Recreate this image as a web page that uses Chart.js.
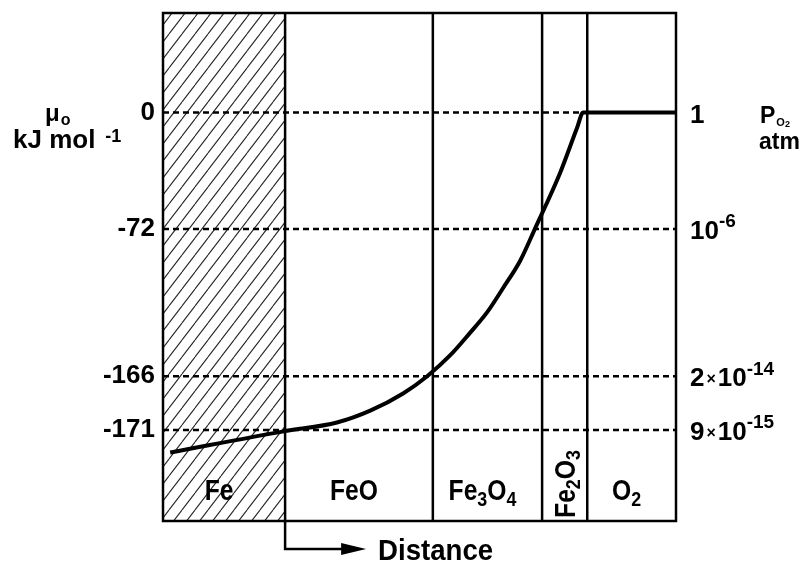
<!DOCTYPE html>
<html>
<head>
<meta charset="utf-8">
<script src="https://cdn.jsdelivr.net/npm/chart.js@4.4.1/dist/chart.umd.min.js"></script>
<style>
  html, body { margin: 0; padding: 0; background: #fff; }
  canvas { display: block; }
</style>
</head>
<body>
<canvas id="c" width="807" height="571"></canvas>
<script>
// Oxygen chemical potential through an oxide scale grown on iron

// Phases met along the distance axis and the distances where they meet
const PHASES = ['Fe', 'FeO', 'Fe3O4', 'Fe2O3', 'O2'];
const PHASE_EDGES = [0, 23.8, 52.6, 73.9, 82.7, 100];

// Chemical potential of oxygen, kJ mol-1, along the distance axis
const DIST = [1.4, 23.8, 33.9, 40.4, 46.8, 51.5, 56.0, 59.8, 63.2, 66.3, 69.6, 72.5, 77.4, 80.7, 81.9, 100];
const MU   = [-173.1, -171.1, -170.3, -169.2, -167.6, -166.0, -152.6, -138.5, -125.1, -109.7, -92.5, -72.0, -37.4, -9.6, 0, 0];

// Marked potentials and the matching oxygen pressures (atm)
const MU_TICKS = [0, -72, -166, -171];
const PO2_LABELS = ['1', '10^-6', '2\u00d710^-14', '9\u00d710^-15'];

const MU_MIN = -179.5, MU_MAX = 62, X_MAX = 100;
const FONT = '"Liberation Sans", Arial, Helvetica, sans-serif';

// A linear axis whose pixel spacing is piecewise: each knot pins a value to a fraction of the axis height
class PiecewiseScale extends Chart.LinearScale {
  _knots() { return this.options.knots; }
  getPixelForValue(value) {
    const k = this._knots();
    let f;
    if (value <= k[0][0]) f = k[0][1];
    else if (value >= k[k.length - 1][0]) f = k[k.length - 1][1];
    else {
      for (let i = 1; i < k.length; i++) {
        if (value <= k[i][0]) {
          const t = (value - k[i - 1][0]) / (k[i][0] - k[i - 1][0]);
          f = k[i - 1][1] + t * (k[i][1] - k[i - 1][1]);
          break;
        }
      }
    }
    return this.getPixelForDecimal(f);
  }
  getValueForPixel(pixel) {
    const k = this._knots();
    const f = this.getDecimalForPixel(pixel);
    for (let i = 1; i < k.length; i++) {
      if (f <= k[i][1]) {
        const t = (f - k[i - 1][1]) / (k[i][1] - k[i - 1][1]);
        return k[i - 1][0] + t * (k[i][0] - k[i - 1][0]);
      }
    }
    return k[k.length - 1][0];
  }
}
PiecewiseScale.id = 'piecewise';
PiecewiseScale.defaults = Chart.LinearScale.defaults;
Chart.register(PiecewiseScale);

const canvas = document.getElementById('c');
const mainCtx = canvas.getContext('2d');

// Diagonal hatching for the metal
function makeHatch() {
  const w = 13, h = 17;
  const c = document.createElement('canvas');
  c.width = w; c.height = h;
  const g = c.getContext('2d');
  g.strokeStyle = '#262626';
  g.lineWidth = 1.1;
  g.beginPath();
  for (const o of [-w, 0, w]) { g.moveTo(o, h); g.lineTo(o + w, 0); }
  g.stroke();
  return mainCtx.createPattern(c, 'repeat');
}

// Draws runs of text (with sub/superscripts) along one baseline
function drawRuns(ctx, items, x, y, align, sx) {
  sx = sx || 1;
  let total = 0;
  for (const it of items) {
    ctx.font = `bold ${it.size}px ${FONT}`;
    it.w = ctx.measureText(it.t).width * sx + (it.gapL || 0) + (it.gapR || 0);
    total += it.w;
  }
  let cx = align === 'center' ? x - total / 2 : align === 'right' ? x - total : x;
  ctx.textAlign = 'left';
  ctx.textBaseline = 'alphabetic';
  for (const it of items) {
    ctx.font = `bold ${it.size}px ${FONT}`;
    ctx.save();
    ctx.translate(cx + (it.gapL || 0), y + (it.dy || 0));
    ctx.scale(sx, 1);
    ctx.fillText(it.t, 0, 0);
    ctx.restore();
    cx += it.w;
  }
}

function chemRuns(formula, size) {
  const out = [];
  formula.replace(/(\d+)|(\D+)/g, (m, d, s) => {
    if (d) out.push({ t: d, size: Math.round(size * 0.72), dy: size * 0.2 });
    else out.push({ t: s, size });
  });
  return out;
}

function powerRuns(label, size) {
  const [main, sup] = label.split('^');
  const out = [];
  const parts = main.split('\u00d7');
  if (parts.length === 2) {
    out.push({ t: parts[0], size });
    out.push({ t: '\u00d7', size: Math.round(size * 0.62), gapL: 2, gapR: 2, dy: -2 });
    out.push({ t: parts[1], size });
  } else {
    out.push({ t: main, size });
  }
  if (sup) out.push({ t: sup, size: Math.round(size * 0.74), dy: -size * 0.45 });
  return out;
}

const annotations = {
  id: 'annotations',
  afterDatasetsDraw(chart) {
    const ctx = chart.ctx;
    const a = chart.chartArea;
    const xs = chart.scales.x, ys = chart.scales.y;
    ctx.save();
    ctx.fillStyle = '#000';
    ctx.strokeStyle = '#000';

    // frame
    ctx.lineWidth = 2.5;
    ctx.strokeRect(a.left, a.top, a.right - a.left, a.bottom - a.top);

    // phase names
    for (let i = 0; i < PHASES.length; i++) {
      const cx = (xs.getPixelForValue(PHASE_EDGES[i]) + xs.getPixelForValue(PHASE_EDGES[i + 1])) / 2;
      const runs = chemRuns(PHASES[i], 29);
      if (PHASES[i] === 'Fe2O3') {
        ctx.save();
        ctx.translate(cx + 1, a.bottom - 37);
        ctx.rotate(-Math.PI / 2);
        drawRuns(ctx, runs, 0, 9, 'center', 0.85);
        ctx.restore();
      } else {
        drawRuns(ctx, runs, cx - 5, a.bottom - 21, 'center', 0.85);
      }
    }

    // oxygen pressures on the right
    const rx = a.right + 14;
    MU_TICKS.forEach((v, i) => {
      const y = ys.getPixelForValue(v);
      drawRuns(ctx, powerRuns(PO2_LABELS[i], 26), rx, y + 10, 'left');
    });

    // axis titles
    const y0 = ys.getPixelForValue(0);
    drawRuns(ctx, [{ t: '\u03bc', size: 24 }, { t: 'o', size: 16, dy: 4, gapL: 1 }], 45, y0 + 8, 'left');
    drawRuns(ctx, [{ t: 'kJ mol', size: 26 }, { t: '-1', size: 18, gapL: 10, dy: -6 }], 13, y0 + 35, 'left');
    drawRuns(ctx, [{ t: 'P', size: 23 }, { t: 'O', size: 11, dy: 3, gapL: 1 }, { t: '2', size: 9, dy: 4 }], 760, y0 + 10, 'left');
    drawRuns(ctx, [{ t: 'atm', size: 23 }], 759, y0 + 36, 'left');

    // distance arrow
    const xb = xs.getPixelForValue(PHASE_EDGES[1]);
    const ya = a.bottom + 28;
    ctx.lineWidth = 2.5;
    ctx.beginPath();
    ctx.moveTo(xb, a.bottom);
    ctx.lineTo(xb, ya);
    ctx.lineTo(xb + 60, ya);
    ctx.stroke();
    ctx.beginPath();
    ctx.moveTo(xb + 81, ya);
    ctx.lineTo(xb + 56, ya - 6);
    ctx.lineTo(xb + 56, ya + 6);
    ctx.closePath();
    ctx.fill();
    drawRuns(ctx, [{ t: 'Distance', size: 30 }], xb + 93, ya + 11, 'left', 0.92);

    ctx.restore();
  }
};

const hatch = makeHatch();

const datasets = [
  {
    data: DIST.map((d, i) => ({ x: d, y: MU[i] })),
    borderColor: '#000',
    borderWidth: 4,
    pointRadius: 0,
    cubicInterpolationMode: 'monotone',
    fill: false
  },
  ...MU_TICKS.map(v => ({
    data: [{ x: 0, y: v }, { x: X_MAX, y: v }],
    borderColor: '#000',
    borderWidth: 2.5,
    borderDash: [6, 4],
    pointRadius: 0,
    fill: false
  })),
  ...PHASE_EDGES.slice(1, -1).map(b => ({
    data: [{ x: b, y: MU_MIN }, { x: b, y: MU_MAX }],
    borderColor: '#000',
    borderWidth: 2.5,
    pointRadius: 0,
    fill: false
  })),
  {
    data: [{ x: PHASE_EDGES[0], y: MU_MAX }, { x: PHASE_EDGES[1], y: MU_MAX }],
    borderWidth: 0,
    pointRadius: 0,
    backgroundColor: hatch,
    fill: 'start'
  }
];

new Chart(canvas, {
  type: 'line',
  data: { datasets },
  options: {
    responsive: false,
    animation: false,
    devicePixelRatio: 1,
    layout: { padding: { left: 0, top: 13, right: 131, bottom: 50 } },
    plugins: { legend: { display: false }, tooltip: { enabled: false } },
    scales: {
      x: { type: 'linear', min: 0, max: X_MAX, display: false },
      y: {
        type: 'piecewise',
        min: MU_MIN,
        max: MU_MAX,
        knots: [[MU_MIN, 0], [-171, 0.179], [-166, 0.285], [-72, 0.575], [0, 0.804], [MU_MAX, 1]],
        afterBuildTicks: axis => { axis.ticks = MU_TICKS.map(v => ({ value: v })); },
        afterFit: axis => { axis.width = 163; axis.paddingTop = 0; axis.paddingBottom = 0; },
        grid: { display: false, drawTicks: false },
        border: { display: false },
        ticks: {
          padding: 8,
          color: '#000',
          font: { family: FONT, size: 26, weight: 'bold' },
          callback: v => String(v)
        }
      }
    }
  },
  plugins: [annotations]
});
</script>
</body>
</html>
